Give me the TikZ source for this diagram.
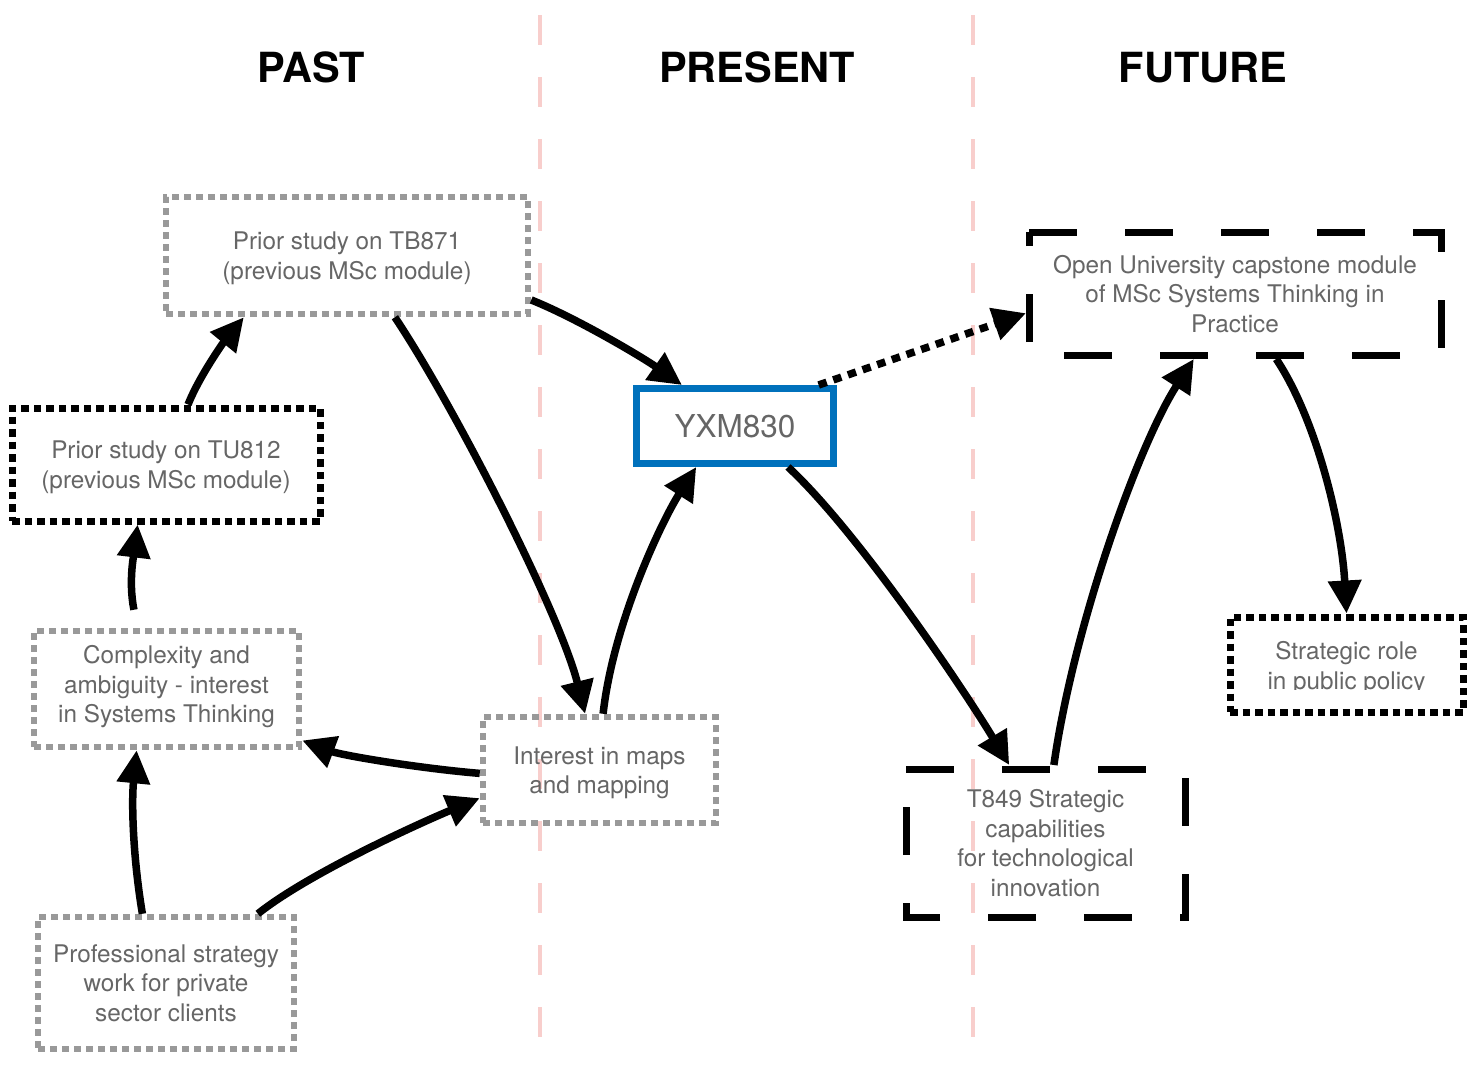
\documentclass[tikz,border=0pt]{standalone}
\usepackage{fontspec}
\setmainfont{TeX Gyre Heros}
\usetikzlibrary{arrows.meta,calc}
\definecolor{boxgray}{HTML}{999999}
\definecolor{textgray}{HTML}{666666}
\definecolor{divpink}{HTML}{F8CECC}
\definecolor{coreblue}{HTML}{0071BC}

\begin{document}
\begin{tikzpicture}[x=1pt,y=-1pt,
  every node/.style={font=\fontsize{24.3}{29.5}\selectfont, text=textgray, align=center,
    inner sep=0pt, text depth=0pt},
  graydots/.style={draw=boxgray, line width=6.5pt, dash pattern=on 7pt off 5pt},
  blackdots/.style={draw=black, line width=7pt, dash pattern=on 7.5pt off 5pt},
  dashframe/.style={outer sep=0pt},
  blackdash/.style={draw=black, line width=7pt, dash pattern=on 48pt off 48pt},
  corebox/.style={draw=coreblue, line width=7pt},
  link/.style={line width=7.5pt, -{Triangle[length=33pt,width=32pt]}},
  dottedlink/.style={link, dash pattern=on 8.5pt off 7pt},
  divider/.style={draw=divpink, line width=3.5pt, dash pattern=on 30pt off 32pt},
  era/.style={font=\fontsize{41.5}{48}\selectfont\bfseries, text=black}
]
\useasboundingbox[fill=white] (0,0) rectangle (1477,1066);

% column dividers
\draw[divider] (540,15) -- (540,1066);
\draw[divider] (973,15) -- (973,1066);

% column headings
\node[era] (past) at (311,67) {PAST};
\node[era] (present) at (757,67) {PRESENT};
\node[era] (future) at (1203,67) {FUTURE};

% past
\node[graydots, minimum width=362pt, minimum height=117pt] (tb871) at (347,255.5)
  {Prior study on TB871\\(previous MSc module)};
\node[blackdots, minimum width=308pt, minimum height=113pt] (tu812) at (166,464.5)
  {Prior study on TU812\\(previous MSc module)};
\node[graydots, minimum width=265pt, minimum height=116pt] (cplx) at (166.5,689) {};
\node (cplxtext) at (166.5,684) {Complexity and\\ambiguity - interest\\in Systems Thinking};
\node[graydots, minimum width=256pt, minimum height=132pt] (prof) at (166,983)
  {Professional strategy\\work for private\\sector clients};

% present
\node[graydots, minimum width=233pt, minimum height=106pt] (maps) at (599.5,770)
  {Interest in maps\\and mapping};
\node[corebox, minimum width=197pt, minimum height=75pt, font=\fontsize{31.5}{36}\selectfont] (yxm) at (735,426)
  {YXM830};

% future: dashed frames are traced clockwise from the top left corner
\node[dashframe, minimum width=412pt, minimum height=123pt] (ou) at (1235,293.5)
  {Open University capstone module\\of MSc Systems Thinking in\\Practice};
\draw[blackdash] (ou.north west) -- (ou.north east) -- (ou.south east) -- (ou.south west) -- cycle;
\node[blackdots, minimum width=233pt, minimum height=95pt] (role) at (1346.5,664.5) {};
\begin{scope}
  \clip (1230,600) rectangle (1463,689);
  \node (roletext) at (1346.5,665.5) {Strategic role\\in public policy};
\end{scope}
\node[dashframe, minimum width=279pt, minimum height=148pt] (t849) at (1045.5,843)
  {T849 Strategic\\capabilities\\for technological\\innovation};
\draw[blackdash] (t849.north west) -- (t849.north east) -- (t849.south east) -- (t849.south west) -- cycle;

% connections
\draw[link] ($(tb871.north east)!0.86!(tb871.south east)$)
  .. controls +(45,18) and +(-40,-28) .. ($(yxm.north west)!0.24!(yxm.north east)$);
\draw[link] ($(tb871.south west)!0.63!(tb871.south east)$)
  .. controls +(60,90) and +(-25,-100) .. ($(maps.north west)!0.44!(maps.north east)$);
\draw[link] ($(tu812.north west)!0.57!(tu812.north east)$)
  .. controls +(12,-30) and +(-18,22) .. ($(tb871.south west)!0.22!(tb871.south east)$);
\draw[link] ($(cplx.north west)!0.38!(cplx.north east)+(0,-18)$)
  .. controls +(-6,-30) and +(-3,25) .. ($(tu812.south west)!0.41!(tu812.south east)$);
\draw[link] ($(maps.north west)!0.53!(maps.south west)$)
  .. controls +(-60,-5) and +(40,15) .. ($(cplx.north east)!0.92!(cplx.south east)$);
\draw[link] ($(prof.north west)!0.41!(prof.north east)$)
  .. controls +(-10,-60) and +(-5,50) .. ($(cplx.south west)!0.39!(cplx.south east)$);
\draw[link] ($(prof.north west)!0.85!(prof.north east)$)
  .. controls +(50,-40) and +(-60,25) .. ($(maps.north west)!0.75!(maps.south west)$);
\draw[link] ($(maps.north west)!0.515!(maps.north east)$)
  .. controls +(10,-90) and +(-35,55) .. ($(yxm.south west)!0.31!(yxm.south east)$);
\draw[dottedlink] ($(yxm.north west)!0.91!(yxm.north east)$)
  -- ($(ou.north west)!0.66!(ou.south west)+(-3,0)$);
\draw[link] ($(yxm.south west)!0.76!(yxm.south east)$)
  .. controls +(70,65) and +(-45,-75) .. ($(t849.north west)!0.37!(t849.north east)+(0,-4)$);
\draw[link] ($(t849.north west)!0.53!(t849.north east)+(0,-4)$)
  .. controls +(20,-140) and +(-55,85) .. ($(ou.south west)!0.40!(ou.south east)+(0,4)$);
\draw[link] ($(ou.south west)!0.60!(ou.south east)+(0,4)$)
  .. controls +(40,60) and +(-5,-90) .. ($(role.north west)!0.50!(role.north east)$);
\end{tikzpicture}
\end{document}
